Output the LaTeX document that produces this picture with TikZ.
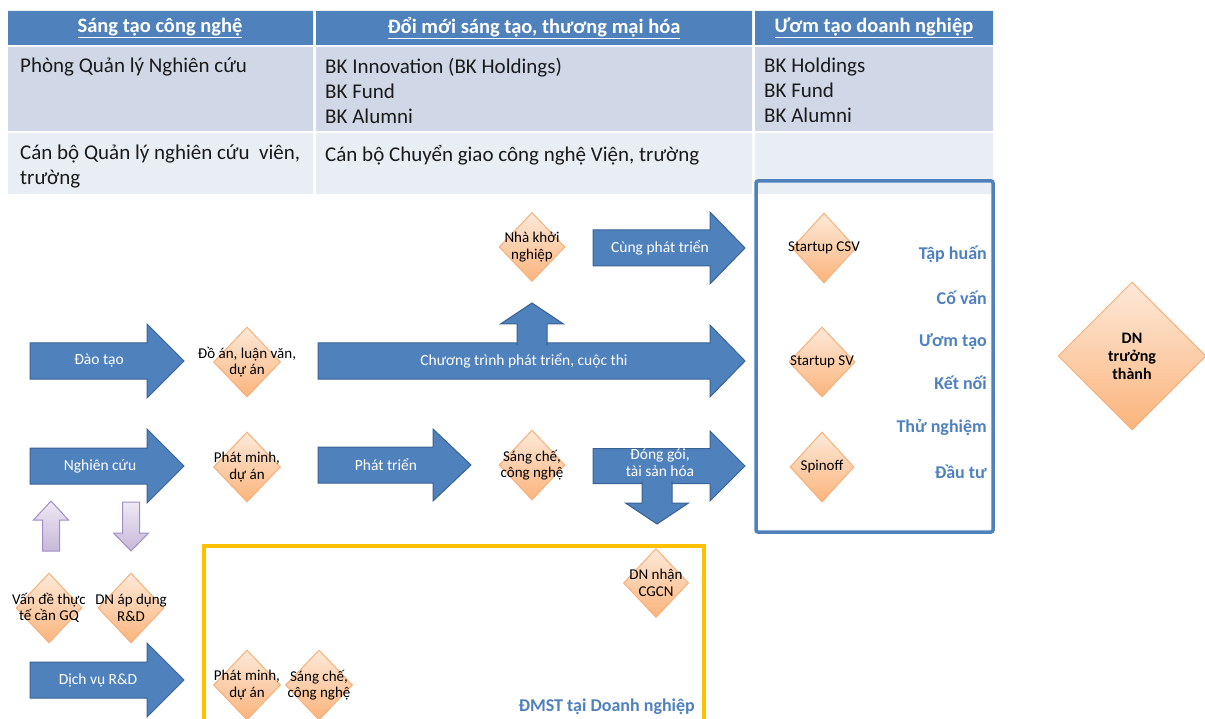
\documentclass[tikz,border=0pt]{standalone}
\usepackage{fontspec}
\setmainfont{Carlito}
\usetikzlibrary{shapes.geometric}
\definecolor{hdr}{HTML}{4F81BD}
\definecolor{rowa}{HTML}{D0D8E8}
\definecolor{rowb}{HTML}{E9EDF4}
\definecolor{arrline}{HTML}{3A6395}
\definecolor{dtop}{HTML}{FDE9D9}
\definecolor{dbot}{HTML}{FBB47C}
\definecolor{dline}{HTML}{F8B07A}
\definecolor{ptop}{HTML}{EEE9F4}
\definecolor{pbot}{HTML}{C6B8D9}
\definecolor{pline}{HTML}{A18EC2}
\definecolor{ylw}{HTML}{FFC000}
\definecolor{lbl}{HTML}{4F81BD}
\definecolor{txt}{HTML}{1A1A1A}
\newcommand{\blockR}[7]{%
 \path[barr] ({#2},{#5-#6}) -- ({#3},{#5-#6}) -- ({#3},{#5-#7}) -- ({#4},{#5}) -- ({#3},{#5+#7}) -- ({#3},{#5+#6}) -- ({#2},{#5+#6}) -- cycle;
 \coordinate (#1) at ({(#2+#3)/2},{#5});}
\newcommand{\blockV}[8]{%
 \path[#8] ({#2-#3},{#5}) -- ({#2-#3},{#6}) -- ({#2-#4},{#6}) -- ({#2},{#7}) -- ({#2+#4},{#6}) -- ({#2+#3},{#6}) -- ({#2+#3},{#5}) -- cycle;
 \coordinate (#1) at ({#2},{#6});}
\newcommand{\dia}[6]{%
 \node[diam,minimum width=#4,minimum height=#5] (#1) at (#2,#3) {};
 \node[dtext] (#1-t) at (#1) {#6};}
\begin{document}
\begin{tikzpicture}[x=1pt,y=-1pt,
  barr/.style={fill=hdr,draw=arrline,line width=1},
  parr/.style={top color=ptop,bottom color=pbot,draw=pline,line width=1},
  diam/.style={diamond,inner sep=0,top color=dtop,bottom color=dbot,draw=dline,line width=1},
  dtext/.style={align=center,inner sep=0,text=black,font=\fontsize{15}{16.5}\selectfont},
  atext/.style={align=center,inner sep=0,text=white,font=\fontsize{15.5}{17}\selectfont},
  htext/.style={inner sep=0,text=white,font=\fontsize{20.5}{24}\selectfont\bfseries},
  ctext/.style={anchor=north west,align=left,inner sep=0,text=txt,font=\fontsize{21}{25}\selectfont},
  rlab/.style={anchor=east,inner sep=0,text=lbl,font=\fontsize{18}{21}\selectfont\bfseries}
]
\useasboundingbox (0,0) rectangle (1205,719);
\clip (0,0) rectangle (1205,719);
\fill[white] (0,0) rectangle (1205,719);

% table
\fill[hdr] (8,11) rectangle (313,45) (316,11) rectangle (752,45) (755,11) rectangle (993,45);
\fill[rowa] (8,47) rectangle (313,131) (316,47) rectangle (752,131) (755,47) rectangle (993,131);
\fill[rowb] (8,133) rectangle (313,194) (316,133) rectangle (752,194) (755,133) rectangle (993,194);
\node[htext] (h1) at (160,28) {\underline{Sáng tạo công nghệ}};
\node[htext] (h2) at (534,28) {\underline{Đổi mới sáng tạo, thương mại hóa}};
\node[htext] (h3) at (874,28) {\underline{Ươm tạo doanh nghiệp}};
\node[ctext] (c21) at (20,58) {Phòng Quản lý Nghiên cứu};
\node[ctext] (c22) at (325,58) {BK Innovation (BK Holdings)\\BK Fund\\BK Alumni};
\node[ctext] (c23) at (764,58) {BK Holdings\\BK Fund\\BK Alumni};
\node[ctext] (c31) at (20,145) {Cán bộ Quản lý nghiên cứu\ \ viên,\\trường};
\node[ctext] (c32) at (325,145) {Cán bộ Chuyển giao công nghệ Viện, trường};

% frames
\draw[hdr,line width=3.5,rounded corners=2] (756,181) rectangle (993,532);
\draw[ylw,line width=3.5] (204,546) rectangle (704,760);

% block arrows
\blockR{a-dao}{30}{147}{184}{361}{18}{37}
\blockR{a-ngc}{30}{147}{184}{466}{18}{37}
\blockR{a-ct}{318}{710}{745}{361}{18}{36}
\blockR{a-cpt}{593}{710}{745}{248}{18}{36}
\blockR{a-pt}{318}{433}{471}{465}{18}{36}
\blockR{a-dg}{593}{710}{745}{466}{17.5}{35}
\blockR{a-dv}{30}{147}{184}{680}{18}{37}
\blockV{a-up}{532}{15}{31.5}{345}{324}{303}{barr}
\blockV{a-down}{657}{15}{31.5}{482}{503}{524}{barr}
\fill[hdr] (518,340) rectangle (546,346);
\fill[hdr] (643,481) rectangle (671,486);
\blockV{p-up}{51}{8.5}{17.5}{551}{520}{501}{parr}
\blockV{p-down}{131}{8.5}{17.5}{502}{533}{551}{parr}

\node[atext] (l-dao) at (99,361) {Đào tạo};
\node[atext] (l-ngc) at (100,466) {Nghiên cứu};
\node[atext] (l-ct) at (524,361) {Chương trình phát triển, cuộc thi};
\node[atext] (l-cpt) at (660,248) {Cùng phát triển};
\node[atext] (l-pt) at (386,465) {Phát triển};
\node[atext] (l-dg) at (660,463) {Đóng gói,\\tài sản hóa};
\node[atext] (l-dv) at (98,680) {Dịch vụ R\&D};

% diamonds
\dia{d-doan}{247}{362}{67}{70}{Đồ án, luận văn,\\dự án}
\dia{d-pm1}{247}{467}{67}{70}{Phát minh,\\dự án}
\dia{d-nkn}{532}{247}{66}{69}{Nhà khởi\\nghiệp}
\dia{d-sc1}{532}{465}{66}{70}{Sáng chế,\\công nghệ}
\dia{d-csv}{824}{248}{64}{70}{Startup CSV}
\dia{d-sv}{822}{362}{66}{70}{Startup SV}
\dia{d-spin}{822}{467}{64}{70}{Spinoff}
\node[diam,minimum width=148,minimum height=148] (d-dn) at (1132,356) {};
\node[dtext,font=\fontsize{16}{18}\selectfont\bfseries] (d-dn-t) at (1132,356) {DN\\trưởng\\thành};
\dia{d-vd}{49}{608}{66}{70}{Vấn đề thực\\tế cần GQ}
\dia{d-ad}{131}{608}{66}{70}{DN áp dụng\\R\&D}
\dia{d-pm2}{247}{685}{67}{70}{Phát minh,\\dự án}
\dia{d-sc2}{319}{685}{67}{70}{Sáng chế,\\công nghệ}
\dia{d-cg}{656}{583}{65}{69}{DN nhận\\CGCN}

% right labels
\node[rlab] (r1) at (987,254) {Tập huấn};
\node[rlab] (r2) at (987,298) {Cố vấn};
\node[rlab] (r3) at (987,342) {Ươm tạo};
\node[rlab] (r4) at (987,383) {Kết nối};
\node[rlab] (r5) at (987,428) {Thử nghiệm};
\node[rlab] (r6) at (987,472) {Đầu tư};
\node[rlab] (dmst) at (695,707) {ĐMST tại Doanh nghiệp};
\end{tikzpicture}
\end{document}
